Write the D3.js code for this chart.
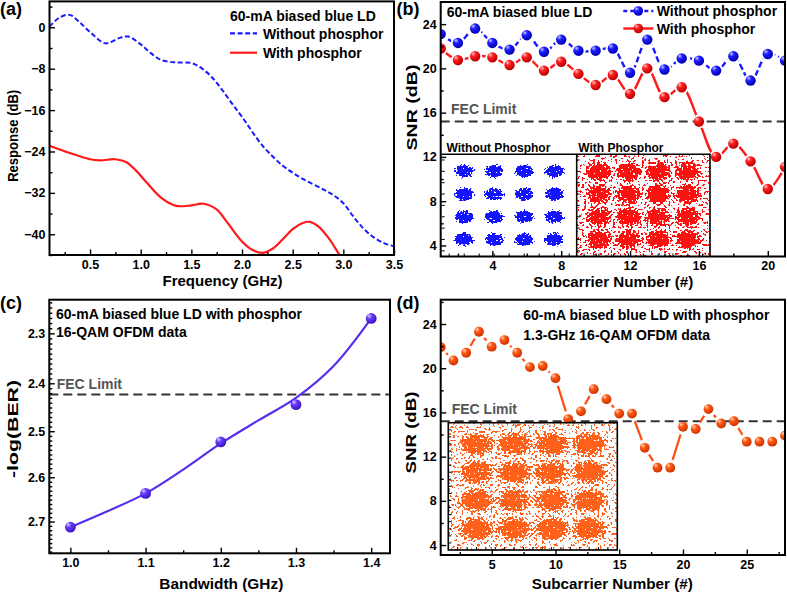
<!DOCTYPE html>
<html><head><meta charset="utf-8">
<script src="https://cdn.jsdelivr.net/npm/d3@7"></script>
<style>
body{margin:0;background:#fff;}
svg{display:block;background:#fff;}
</style></head><body>
<svg id="chart" width="787" height="595"></svg>
<script>
// ---------------- DATA ----------------
// (a) frequency response
const freqWithout = [0.1,0.2,0.3,0.4,0.5,0.65,0.8,0.88,1.0,1.1,1.2,1.35,1.5,1.6,1.7,1.8,1.9,2.0,2.2,2.4,2.6,2.8,2.9,3.0,3.1,3.2,3.3,3.4,3.5];
const respWithout = [0.1,1.9,2.4,0.9,-0.9,-3.1,-2.0,-1.8,-3.3,-5.0,-6.3,-6.8,-6.9,-7.9,-9.6,-12.0,-14.7,-17.3,-22.8,-26.7,-29.3,-31.3,-32.4,-34.0,-36.6,-38.9,-40.6,-41.7,-42.3];
const freqWith = [0.1,0.3,0.5,0.6,0.75,0.85,0.95,1.05,1.2,1.35,1.5,1.62,1.75,1.85,2.0,2.1,2.2,2.3,2.4,2.5,2.6,2.67,2.75,2.85,2.95,3.0];
const respWith = [-22.9,-24.3,-25.5,-25.7,-25.5,-26.0,-27.6,-29.8,-32.9,-34.5,-34.4,-34.1,-35.2,-37.6,-41.4,-43.0,-43.6,-42.8,-41.0,-39.0,-37.8,-37.6,-38.4,-40.6,-43.6,-45.2];
const ticksAX = [0.5,1.0,1.5,2.0,2.5,3.0,3.5];
const ticksAY = [0,-8,-16,-24,-32,-40];

// (b) SNR per subcarrier
const subcarrierB = [1,2,3,4,5,6,7,8,9,10,11,12,13,14,15,16,17,18,19,20,21];
const snrWithoutB = [23.1,22.3,23.6,22.3,21.7,23.0,21.5,22.6,21.6,21.6,21.8,19.6,22.6,19.9,20.9,20.7,19.8,21.1,18.9,21.3,20.7];
const snrWithB = [21.8,20.75,21.1,21.0,20.3,21.0,19.8,20.6,19.5,18.5,19.4,17.7,20.0,17.4,18.3,15.2,12.0,13.2,11.6,9.1,11.1];
const ticksBX = [4,8,12,16,20];
const ticksBY = [4,8,12,16,20,24];

// (c) -log(BER) vs bandwidth
const bandwidthC = [1.0,1.1,1.2,1.3,1.4];
const logBerC = [2.713,2.636,2.523,2.444,2.271];
const fitBandwidthC = [1.0,1.05,1.1,1.15,1.2,1.25,1.3,1.35,1.4];
const fitLogBerC = [2.713,2.676,2.636,2.583,2.526,2.477,2.430,2.365,2.271];
const ticksCX = [1.0,1.1,1.2,1.3,1.4];
const ticksCY = [2.3,2.4,2.5,2.6,2.7];

// (d) SNR per subcarrier, 1.3 GHz
const subcarrierD = [1,2,3,4,5,6,7,8,9,10,11,12,13,14,15,16,17,18,19,20,21,22,23,24,25,26,27,28];
const snrD = [21.9,20.7,21.4,23.3,21.95,22.55,21.4,20.1,20.2,19.1,15.4,16.1,18.1,17.2,15.9,15.9,12.8,11.0,11.0,14.7,14.5,16.3,15.0,15.2,13.35,13.35,13.35,13.9];
const ticksDX = [5,10,15,20,25];
const ticksDY = [4,8,12,16,20,24];

// FEC limits
const fecSnr = 15.2;
const fecLogBer = 2.423;
// 16-QAM constellation levels
const qamLevels = [-3,-1,1,3];

// ---------------- SETUP ----------------
const FONT = "'Liberation Sans', Arial, Helvetica, sans-serif";
const svg = d3.select("#chart");
const defs = svg.append("defs");

function sphere(id, hi, mid, lo) {
  const g = defs.append("radialGradient").attr("id", id)
    .attr("cx","38%").attr("cy","35%").attr("r","65%").attr("fx","30%").attr("fy","25%");
  g.append("stop").attr("offset","0%").attr("stop-color",hi);
  g.append("stop").attr("offset","38%").attr("stop-color",mid);
  g.append("stop").attr("offset","100%").attr("stop-color",lo);
}
sphere("gBlue","#c8c8ff","#1e1eff","#0000b0");
sphere("gRed","#ffc8c8","#ff1e1e","#b80000");
sphere("gOrange","#ffd8c0","#ff5a14","#cc3300");
sphere("gPurple","#dcd0ff","#6a3cff","#3a14c0");

function blobGrad(id, stops) {
  const g = defs.append("radialGradient").attr("id", id);
  stops.forEach(([o, a]) => g.append("stop").attr("offset", o).attr("stop-color","#fff").attr("stop-opacity", a));
}
blobGrad("blobTight", [["0%",1],["60%",1],["100%",0]]);
blobGrad("blobWide", [["0%",1],["45%",1],["100%",0]]);

// speckle texture: a dot appears where the blob density exceeds a noise threshold
function speckFilter(id, rgb, freq) {
  const f = defs.append("filter").attr("id", id)
    .attr("x","-2%").attr("y","-2%").attr("width","104%").attr("height","104%")
    .attr("color-interpolation-filters","sRGB");
  f.append("feTurbulence").attr("type","fractalNoise").attr("baseFrequency",freq)
    .attr("numOctaves",1).attr("seed",11).attr("result","noise");
  f.append("feColorMatrix").attr("in","noise").attr("type","matrix")
    .attr("values","0 0 0 0 0  0 0 0 0 0  0 0 0 0 0  2.6 0 0 0 -0.85").attr("result","ns");
  f.append("feComposite").attr("in","SourceAlpha").attr("in2","ns").attr("operator","arithmetic")
    .attr("k1",0).attr("k2",1).attr("k3",-1).attr("k4",0).attr("result","diff");
  f.append("feColorMatrix").attr("in","diff").attr("type","matrix")
    .attr("values",`0 0 0 0 ${rgb[0]}  0 0 0 0 ${rgb[1]}  0 0 0 0 ${rgb[2]}  0 0 0 30 0`);
}
speckFilter("spBlue",[0.08,0.08,1],0.5);
speckFilter("spRed",[1,0.06,0.06],0.45);
speckFilter("spOrange",[1,0.38,0.1],0.45);

function addText(txt, x, y, size, o = {}) {
  const t = svg.append("text").attr("x",x).attr("y",y)
    .attr("font-size",size).attr("font-weight","bold").attr("font-family",FONT)
    .attr("fill",o.fill || "#000").text(txt);
  if (o.anchor) t.attr("text-anchor",o.anchor);
  if (o.len) t.attr("textLength",o.len).attr("lengthAdjust","spacingAndGlyphs");
  if (o.rotate) t.attr("transform",`rotate(-90,${x},${y})`);
  return t;
}

let clipN = 0;
function setupPanel(x, y) {
  const [xl, xr] = x.range();
  const yb = Math.max(...y.range()), yt = Math.min(...y.range());
  const id = "clip" + (clipN++);
  defs.append("clipPath").attr("id", id).append("rect")
    .attr("x",xl).attr("y",yt).attr("width",xr-xl).attr("height",yb-yt);
  const g = svg.append("g");
  const inner = g.append("g").attr("clip-path",`url(#${id})`);
  return {g, inner, xl, xr, yb, yt};
}

function styleAxis(sel) {
  sel.select(".domain").remove();
  sel.attr("font-family",null).attr("font-size",null);
  sel.selectAll(".tick line").attr("stroke","#000").attr("stroke-width",1.4);
  sel.selectAll(".tick text").attr("font-family",FONT).attr("font-size",12.5)
    .attr("font-weight","bold").attr("fill","#000");
}
function drawAxes(p, x, y, o) {
  p.g.append("g").attr("transform",`translate(0,${p.yb})`)
    .call(d3.axisBottom(x).tickValues(o.xMinor).tickSize(-3).tickFormat("")).call(styleAxis);
  p.g.append("g").attr("transform",`translate(0,${p.yb})`)
    .call(d3.axisBottom(x).tickValues(o.xMajor).tickSize(-5.5).tickPadding(5).tickFormat(o.xFmt)).call(styleAxis);
  p.g.append("g").attr("transform",`translate(${p.xl},0)`)
    .call(d3.axisLeft(y).tickValues(o.yMinor).tickSize(-3).tickFormat("")).call(styleAxis);
  p.g.append("g").attr("transform",`translate(${p.xl},0)`)
    .call(d3.axisLeft(y).tickValues(o.yMajor).tickSize(-5.5).tickPadding(4).tickFormat(o.yFmt)).call(styleAxis);
}
function drawFrame(p) {
  p.g.append("rect").attr("x",p.xl).attr("y",p.yt).attr("width",p.xr-p.xl).attr("height",p.yb-p.yt)
    .attr("fill","none").attr("stroke","#000").attr("stroke-width",2);
}
function fecLine(p, yv) {
  p.inner.append("line").attr("x1",p.xl).attr("x2",p.xr).attr("y1",yv).attr("y2",yv)
    .attr("stroke","#333").attr("stroke-width",2).attr("stroke-dasharray","9,5");
}
let maskN = 0;
function gapMask(p, pts, r) {
  const id = "mask" + (maskN++);
  const m = defs.append("mask").attr("id",id).attr("maskUnits","userSpaceOnUse")
    .attr("x",p.xl-20).attr("y",p.yt-20).attr("width",p.xr-p.xl+40).attr("height",p.yb-p.yt+40);
  m.append("rect").attr("x",p.xl-20).attr("y",p.yt-20).attr("width",p.xr-p.xl+40).attr("height",p.yb-p.yt+40).attr("fill","#fff");
  m.selectAll("circle").data(pts).join("circle").attr("cx",d=>d[0]).attr("cy",d=>d[1]).attr("r",r).attr("fill","#000");
  return `url(#${id})`;
}
function constellation(parent, xr, yr, filterId, grad, rx, ry, bg) {
  const qx = d3.scaleLinear().domain([-4.5,4.5]).range(xr);
  const qy = d3.scaleLinear().domain([-4.5,4.5]).range(yr);
  const id = "clip" + (clipN++);
  defs.append("clipPath").attr("id", id).append("rect")
    .attr("x",xr[0]).attr("y",yr[1]).attr("width",xr[1]-xr[0]).attr("height",yr[0]-yr[1]);
  const cg = parent.append("g").attr("clip-path",`url(#${id})`);
  const g = cg.append("g").attr("filter",`url(#${filterId})`);
  g.append("rect").attr("x",xr[0]).attr("y",yr[1]).attr("width",xr[1]-xr[0]).attr("height",yr[0]-yr[1])
    .attr("fill","#fff").attr("fill-opacity",bg);
  const pts = [];
  qamLevels.forEach(i => qamLevels.forEach(q => pts.push([i,q])));
  g.selectAll("ellipse").data(pts).join("ellipse")
    .attr("cx",d=>qx(d[0])).attr("cy",d=>qy(d[1])).attr("rx",rx).attr("ry",ry)
    .attr("fill",`url(#${grad})`);
  return {qx, qy};
}
function insetTicks(parent, qx, qy, step) {
  const vals = d3.range(-4, 4.001, step);
  const [x0] = qx.range(); const [y0] = qy.range();
  parent.selectAll(null).data(vals).join("line")
    .attr("x1",x0).attr("x2",x0+3).attr("y1",d=>qy(d)).attr("y2",d=>qy(d))
    .attr("stroke","#000").attr("stroke-width",1);
  parent.selectAll(null).data(vals).join("line")
    .attr("x1",d=>qx(d)).attr("x2",d=>qx(d)).attr("y1",y0).attr("y2",y0-3)
    .attr("stroke","#000").attr("stroke-width",1);
}

// ---------------- PANEL (a) ----------------
{
  const x = d3.scaleLinear().domain([0.1,3.5]).range([49.5,394]);
  const y = d3.scaleLinear().domain([-44,5]).range([255,1.4]);
  const p = setupPanel(x, y);
  const line = d3.line().curve(d3.curveCatmullRom.alpha(0.5));
  p.inner.append("path").attr("d", line(freqWithout.map((f,i)=>[x(f), y(respWithout[i])])))
    .attr("fill","none").attr("stroke","#1a1aff").attr("stroke-width",2).attr("stroke-dasharray","5,2.6");
  p.inner.append("path").attr("d", line(freqWith.map((f,i)=>[x(f), y(respWith[i])])))
    .attr("fill","none").attr("stroke","#ff1a1a").attr("stroke-width",2.2);
  drawAxes(p, x, y, {
    xMajor: ticksAX, xMinor: d3.range(0.25,3.5,0.5), xFmt: d3.format(".1f"),
    yMajor: ticksAY, yMinor: [4,-4,-12,-20,-28,-36,-44], yFmt: d3.format("d")
  });
  drawFrame(p);
  p.g.append("line").attr("x1",230).attr("x2",257).attr("y1",33.3).attr("y2",33.3)
    .attr("stroke","#1a1aff").attr("stroke-width",2.2).attr("stroke-dasharray","5,2.6");
  p.g.append("line").attr("x1",230).attr("x2",257).attr("y1",52.7).attr("y2",52.7)
    .attr("stroke","#ff1a1a").attr("stroke-width",2.2);
  addText("60-mA biased blue LD", 230, 21, 14);
  addText("Without phosphor", 263, 38.5, 14);
  addText("With phosphor", 263, 57.5, 14);
  addText("(a)", 0, 15, 18);
  addText("Frequency (GHz)", 222.5, 286, 15, {anchor:"middle", len:120});
  addText("Response (dB)", 18, 135.8, 15, {anchor:"middle", len:92, rotate:true});
}

// ---------------- PANEL (b) ----------------
{
  const x = d3.scaleLinear().domain([1,21]).range([440.7,785]);
  const y = d3.scaleLinear().domain([3,26]).range([256.5,2]);
  const p = setupPanel(x, y);
  fecLine(p, y(fecSnr));
  const ins = p.inner.append("g");
  const iy = [256.5,154.3];
  ins.append("rect").attr("x",441.7).attr("y",154.3).attr("width",710-441.7).attr("height",256.5-154.3).attr("fill","#fff");
  const c1 = constellation(ins, [441.7,576.7], iy, "spBlue", "blobTight", 11, 7.5, 0.0);
  const c2 = constellation(ins, [576.7,710], iy, "spRed", "blobWide", 15, 11.5, 0.2);
  insetTicks(ins, c1.qx, c1.qy, 1);
  insetTicks(ins, c2.qx, c2.qy, 1);
  ins.append("path").attr("d",`M441.7,154.3H710V257M576.7,154.3V257`)
    .attr("fill","none").attr("stroke","#000").attr("stroke-width",1.6);
  const r = 5.2;
  const line = d3.line().curve(d3.curveCatmullRom.alpha(0.5));
  const ptsW = subcarrierB.map((s,i)=>[x(s), y(snrWithoutB[i])]);
  const ptsR = subcarrierB.map((s,i)=>[x(s), y(snrWithB[i])]);
  p.inner.append("path").attr("d", line(ptsW)).attr("mask", gapMask(p, ptsW, r+2))
    .attr("fill","none").attr("stroke","#1a1aff").attr("stroke-width",2.4).attr("stroke-dasharray","6,3");
  p.inner.append("path").attr("d", line(ptsR)).attr("mask", gapMask(p, ptsR, r+1.8))
    .attr("fill","none").attr("stroke","#ff1a1a").attr("stroke-width",2.4);
  p.inner.selectAll(null).data(ptsW).join("circle").attr("cx",d=>d[0]).attr("cy",d=>d[1]).attr("r",r).attr("fill","url(#gBlue)");
  p.inner.selectAll(null).data(ptsR).join("circle").attr("cx",d=>d[0]).attr("cy",d=>d[1]).attr("r",r).attr("fill","url(#gRed)");
  drawAxes(p, x, y, {
    xMajor: ticksBX, xMinor: [2,6,10,14,18], xFmt: d3.format("d"),
    yMajor: ticksBY, yMinor: [6,10,14,18,22], yFmt: d3.format("d")
  });
  drawFrame(p);
  p.g.append("line").attr("x1",623.3).attr("x2",653.3).attr("y1",11).attr("y2",11)
    .attr("stroke","#1a1aff").attr("stroke-width",2.4).attr("stroke-dasharray","4,3");
  p.g.append("circle").attr("cx",638.3).attr("cy",11).attr("r",4.8).attr("fill","url(#gBlue)");
  p.g.append("line").attr("x1",623.3).attr("x2",653.3).attr("y1",28.5).attr("y2",28.5)
    .attr("stroke","#ff1a1a").attr("stroke-width",2.4);
  p.g.append("circle").attr("cx",638.3).attr("cy",28.5).attr("r",4.8).attr("fill","url(#gRed)");
  addText("Without phosphor", 656.7, 15.5, 14);
  addText("With phosphor", 656.7, 33.5, 14);
  addText("60-mA biased blue LD", 446.7, 16.7, 14);
  addText("FEC Limit", 451, 113.5, 14, {fill:"#555"});
  addText("Without Phosphor", 446.5, 151.5, 12);
  addText("With Phosphor", 578.3, 151.5, 12);
  addText("(b)", 396.5, 15, 18);
  addText("Subcarrier Number (#)", 613.3, 287, 15, {anchor:"middle", len:160});
  addText("SNR (dB)", 417, 107.5, 15, {anchor:"middle", len:86, rotate:true});
}

// ---------------- PANEL (c) ----------------
{
  const x = d3.scaleLinear().domain([0.972,1.425]).range([49.3,390]);
  const y = d3.scaleLog().domain([2.235,2.774]).range([299.7,553.3]);
  const p = setupPanel(x, y);
  fecLine(p, y(fecLogBer));
  const line = d3.line().curve(d3.curveCatmullRom.alpha(0.5));
  p.inner.append("path").attr("d", line(fitBandwidthC.map((b,i)=>[x(b), y(fitLogBerC[i])])))
    .attr("fill","none").attr("stroke","#5a2cf0").attr("stroke-width",2.2);
  p.inner.selectAll(null).data(bandwidthC).join("circle")
    .attr("cx",d=>x(d)).attr("cy",(d,i)=>y(logBerC[i])).attr("r",5.4).attr("fill","url(#gPurple)");
  const yMinor = d3.range(224,278).map(v=>v/100).filter(v=>v>=2.235 && v<=2.774 && Math.round(v*100)%10!==0);
  drawAxes(p, x, y, {
    xMajor: ticksCX, xMinor: [1.05,1.15,1.25,1.35], xFmt: d3.format(".1f"),
    yMajor: ticksCY, yMinor: yMinor, yFmt: d3.format(".1f")
  });
  drawFrame(p);
  addText("60-mA biased blue LD with phosphor", 56, 318.5, 14);
  addText("16-QAM OFDM data", 56, 336.8, 14);
  addText("FEC Limit", 56.7, 388.5, 14, {fill:"#555"});
  addText("(c)", 0, 309, 18);
  addText("Bandwidth (GHz)", 221.3, 589, 15, {anchor:"middle", len:124});
  addText("-log(BER)", 18, 429, 15, {anchor:"middle", len:98, rotate:true});
}

// ---------------- PANEL (d) ----------------
{
  const x = d3.scaleLinear().domain([1,28]).range([440.7,785]);
  const y = d3.scaleLinear().domain([3.1,26.2]).range([555,299.7]);
  const p = setupPanel(x, y);
  fecLine(p, y(fecSnr));
  const ins = p.g.append("g");
  const ixr = [448.3,617.3], iyr = [550,422.7];
  ins.append("rect").attr("x",ixr[0]).attr("y",iyr[1]).attr("width",ixr[1]-ixr[0]).attr("height",iyr[0]-iyr[1]).attr("fill","#fff");
  const c = constellation(ins, ixr, iyr, "spOrange", "blobWide", 20, 13.5, 0.2);
  insetTicks(ins, c.qx, c.qy, 0.5);
  ins.append("rect").attr("x",ixr[0]).attr("y",iyr[1]).attr("width",ixr[1]-ixr[0]).attr("height",iyr[0]-iyr[1])
    .attr("fill","none").attr("stroke","#000").attr("stroke-width",1.6);
  const r = 4.9;
  const pts = subcarrierD.map((s,i)=>[x(s), y(snrD[i])]);
  p.inner.append("path").attr("d", d3.line()(pts)).attr("mask", gapMask(p, pts, r+3.2))
    .attr("fill","none").attr("stroke","#ff4a10").attr("stroke-width",2.2);
  p.inner.selectAll(null).data(pts).join("circle").attr("cx",d=>d[0]).attr("cy",d=>d[1]).attr("r",r).attr("fill","url(#gOrange)");
  drawAxes(p, x, y, {
    xMajor: ticksDX, xMinor: [2.5,7.5,12.5,17.5,22.5,27.5], xFmt: d3.format("d"),
    yMajor: ticksDY, yMinor: [6,10,14,18,22,26], yFmt: d3.format("d")
  });
  drawFrame(p);
  addText("60-mA biased blue LD with phosphor", 523.3, 320, 14);
  addText("1.3-GHz 16-QAM OFDM data", 523.3, 339.5, 14);
  addText("FEC Limit", 451.7, 414, 14, {fill:"#555"});
  addText("(d)", 396.5, 309, 18);
  addText("Subcarrier Number (#)", 612.3, 589, 15, {anchor:"middle", len:161});
  addText("SNR (dB)", 416, 432.5, 15, {anchor:"middle", len:82, rotate:true});
}
</script>
</body></html>
